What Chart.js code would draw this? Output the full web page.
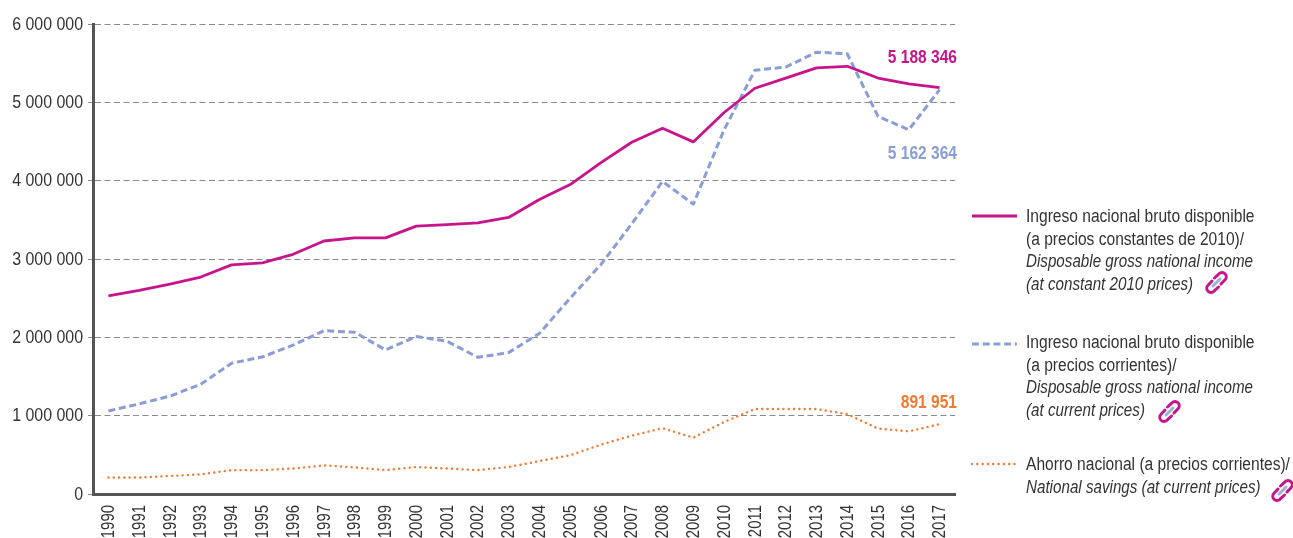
<!DOCTYPE html>
<html>
<head>
<meta charset="utf-8">
<script src="https://cdn.jsdelivr.net/npm/chart.js@4"></script>
<style>
  html, body { margin: 0; padding: 0; background: #fff; }
  #wrap { position: relative; width: 1293px; height: 538px; overflow: hidden; }
  canvas { position: absolute; left: 0; top: 0; }
  .legend { position: absolute; left: 1026px; font: 18px/22.5px "Liberation Sans", sans-serif; color: #333; white-space: nowrap; transform: scaleX(0.865); transform-origin: 0 0; }
  .legend i { display: block; font-style: italic; transform: scaleX(0.975); transform-origin: 0 0; }
  .sample { position: absolute; left: 971px; }
  .link { position: absolute; }
</style>
</head>
<body>
<div id="wrap">
  <canvas id="chart" width="1293" height="538"></canvas>

  <svg class="sample" style="top:210px" width="46" height="12"><line x1="1" y1="6" x2="46" y2="6" stroke="#c8148c" stroke-width="2.8"/></svg>
  <div class="legend" style="top:205px">Ingreso nacional bruto disponible<br>(a precios constantes de 2010)/<i>Disposable gross national income</i><i>(at constant 2010 prices)</i></div>

  <svg class="sample" style="top:338px" width="46" height="12"><line x1="1" y1="6" x2="46" y2="6" stroke="#8a9dd8" stroke-width="3" stroke-dasharray="7 3.7"/></svg>
  <div class="legend" style="top:331px">Ingreso nacional bruto disponible<br>(a precios corrientes)/<i>Disposable gross national income</i><i>(at current prices)</i></div>

  <svg class="sample" style="top:458px" width="46" height="12"><line x1="1" y1="6" x2="46" y2="6" stroke="#f47a30" stroke-width="2.4" stroke-linecap="round" stroke-dasharray="0.1 5.2"/></svg>
  <div class="legend" style="top:453px">Ahorro nacional (a precios corrientes)/<i>National savings (at current prices)</i></div>

  <svg class="link" style="left:1204px;top:270px" width="25" height="25" viewBox="0 0 25 25"><use href="#chain"/></svg>
  <svg class="link" style="left:1157px;top:399px" width="25" height="25" viewBox="0 0 25 25"><use href="#chain"/></svg>
  <svg class="link" style="left:1270px;top:478px" width="25" height="25" viewBox="0 0 25 25"><use href="#chain"/></svg>
  <svg width="0" height="0" style="position:absolute">
    <defs>
      <g id="chain" fill="none" stroke-linecap="round">
        <path d="M10.5 8 L15 3.8 a4.2 4.2 0 0 1 6 6 L17 14" stroke="#c8148c" stroke-width="3"/>
        <path d="M14.5 17 L10 21.2 a4.2 4.2 0 0 1 -6 -6 L8 11" stroke="#c8148c" stroke-width="3"/>
        <path d="M9 16 L16 9" stroke="#9fb0de" stroke-width="3"/>
      </g>
    </defs>
  </svg>
</div>

<script>
var years = ['1990','1991','1992','1993','1994','1995','1996','1997','1998','1999','2000','2001','2002','2003','2004','2005','2006','2007','2008','2009','2010','2011','2012','2013','2014','2015','2016','2017'];

var constantIncome = [2530000,2600000,2680000,2770000,2925000,2950000,3060000,3230000,3270000,3270000,3420000,3440000,3460000,3530000,3760000,3950000,4230000,4490000,4670000,4495000,4870000,5180000,5310000,5440000,5460000,5310000,5235000,5188346];
var currentIncome = [1060000,1150000,1250000,1400000,1670000,1750000,1900000,2085000,2065000,1840000,2010000,1950000,1745000,1805000,2050000,2500000,2930000,3450000,3990000,3700000,4650000,5410000,5450000,5640000,5620000,4820000,4650000,5162364];
var savings = [210000,210000,230000,250000,305000,305000,325000,365000,340000,305000,345000,325000,305000,345000,420000,495000,630000,745000,840000,720000,920000,1085000,1085000,1085000,1020000,835000,800000,891951];

var magenta = '#c8148c', blue = '#8a9dd8', orange = '#f47a30';
var sans = '"Liberation Sans", sans-serif';

function spaced(v){
  return String(v).replace(/\B(?=(\d{3})+$)/g,' ');
}

// no condensed face is installed, so squeeze the text sideways
function squeezed(ctx, text, x, y, sx, font, color, align, rotate){
  ctx.save();
  ctx.translate(x, y);
  if(rotate){ ctx.rotate(-Math.PI/2); }
  ctx.scale(sx, 1);
  ctx.font = font;
  ctx.fillStyle = color;
  ctx.textAlign = align;
  ctx.textBaseline = 'middle';
  ctx.fillText(text, 0, 0);
  ctx.restore();
}

var axisText = {
  id: 'axisText',
  afterDraw: function(chart){
    var ctx = chart.ctx;
    var yScale = chart.scales.y, xScale = chart.scales.x;
    yScale.ticks.forEach(function(t,i){
      squeezed(ctx, spaced(t.value), 83, yScale.getPixelForTick(i) + 0.7, 0.885, '18px '+sans, '#333', 'right', false);
    });
    xScale.ticks.forEach(function(t,i){
      squeezed(ctx, t.label, xScale.getPixelForTick(i) + 0.7, 505, 0.83, '18px '+sans, '#333', 'right', true);
    });
  }
};

// last value of each line, written next to its end
var endLabels = {
  id: 'endLabels',
  afterDatasetsDraw: function(chart){
    var shift = [-30, 64, -21];
    chart.data.datasets.forEach(function(ds,i){
      var last = ds.data.length-1;
      var pt = chart.getDatasetMeta(i).data[last];
      squeezed(chart.ctx, spaced(ds.data[last]), 957, pt.y + shift[i], 0.84, 'bold 18.5px '+sans, ds.borderColor, 'right', false);
    });
  }
};

new Chart(document.getElementById('chart'), {
  type: 'line',
  data: {
    labels: years,
    datasets: [
      {label: 'Ingreso nacional bruto disponible (a precios constantes de 2010)', data: constantIncome, borderColor: magenta, borderWidth: 2.8},
      {label: 'Ingreso nacional bruto disponible (a precios corrientes)', data: currentIncome, borderColor: blue, borderWidth: 3, borderDash: [7,3.7]},
      {label: 'Ahorro nacional (a precios corrientes)', data: savings, borderColor: orange, borderWidth: 2.4, borderDash: [0.1,5.2], borderCapStyle: 'round'}
    ]
  },
  options: {
    responsive: false,
    animation: false,
    layout: {padding: {top: 24, right: 338, left: 0, bottom: 0}},
    elements: {point: {radius: 0}, line: {tension: 0, fill: false, borderJoinStyle: 'round'}},
    plugins: {legend: {display: false}, tooltip: {enabled: false}},
    scales: {
      x: {
        offset: true,
        afterFit: function(s){ s.height = 44; },
        grid: {display: false, drawTicks: false, offset: true},
        border: {color: '#555', width: 3},
        ticks: {display: false, autoSkip: false}
      },
      y: {
        min: 0,
        max: 6000000,
        afterFit: function(s){ s.width = 93; },
        grid: {color: '#8a8a8a', lineWidth: 1, tickLength: 5, tickColor: '#8a8a8a', tickBorderDash: []},
        border: {color: '#555', width: 3, dash: [6,3.5]},
        ticks: {display: false, stepSize: 1000000}
      }
    }
  },
  plugins: [endLabels, axisText]
});
</script>
</body>
</html>
